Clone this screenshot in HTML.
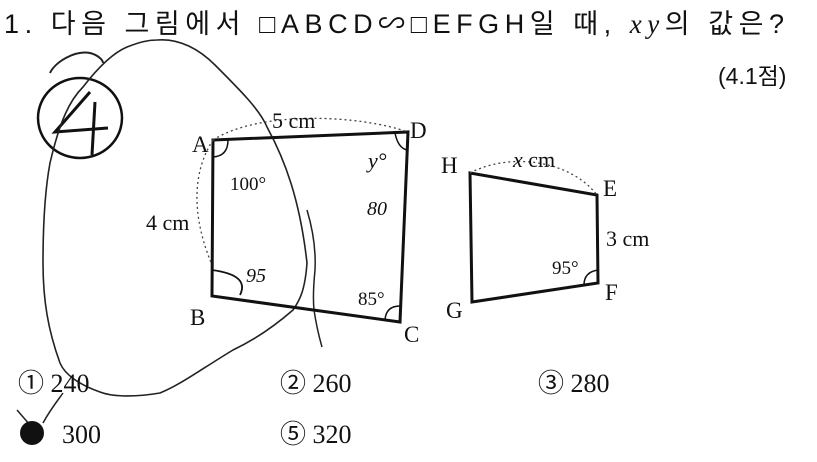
<!DOCTYPE html>
<html><head><meta charset="utf-8"><style>
html,body{margin:0;padding:0;background:#fff;}
body{width:817px;height:457px;overflow:hidden;}
svg text{font-family:"Liberation Serif","Noto Serif CJK SC",serif;fill:#111;}
.k{font-family:"Liberation Sans","Noto Sans CJK KR",sans-serif;}
</style></head><body>
<svg width="817" height="457" viewBox="0 0 817 457" xmlns="http://www.w3.org/2000/svg">
<text class="k" x="4" y="33" font-size="27" textLength="780" lengthAdjust="spacing">1. 다음 그림에서 □ABCD∽□EFGH일 때, <tspan font-style="italic" font-family="Liberation Serif">xy</tspan>의 값은?</text>
<text class="k" x="718" y="84" font-size="23">(4.1점)</text>

<!-- hand-drawn circle with 4 -->
<ellipse cx="80" cy="118" rx="42" ry="40" fill="none" stroke="#111" stroke-width="2.5"/>
<path d="M92 88 L55 100 L110 85 M92 88 L56 100" fill="none" stroke="none"/>
<path d="M88 96 L55 100 L110 84 M93 100 L92 155" fill="none" stroke="none"/>
<path d="M90 92 L55 132 L108 128 M95 102 L92 155" fill="none" stroke="#111" stroke-width="3"/>
<path d="M50 73 C55 62 75 50 90 53 C98 55 103 60 103 63" fill="none" stroke="#222" stroke-width="2"/>
<!-- large loop -->
<path d="M157 40 C180 38 200 50 215 65 C240 90 260 110 267 127 C285 160 300 200 307 263 C305 290 300 300 293 310 C270 330 250 342 233 350 C200 370 180 385 160 393 C130 398 110 396 100 392 C80 385 65 375 60 363 C48 330 43 300 43 263 C43 220 45 190 50 163 C60 120 70 100 83 87 C100 65 115 52 127 47 C140 42 148 40 157 40" fill="none" stroke="#222" stroke-width="1.6"/>
<path d="M307 210 C313 230 316 250 315 270 C313 290 313 300 314 310 C317 330 320 340 322 347" fill="none" stroke="#222" stroke-width="1.5"/>
<path d="M17 410 L30 425 M43 423 C50 410 58 400 63 393" fill="none" stroke="#222" stroke-width="1.5"/>

<!-- ABCD -->
<path d="M213 140 L408 132 L400 322 L212 296 Z" fill="none" stroke="#111" stroke-width="3"/>
<path d="M213 140 C200 160 185 200 212 265 M213 140 C260 110 360 115 408 132" fill="none" stroke="#444" stroke-width="1.3" stroke-dasharray="2,3"/>
<path d="M213 157 Q228 156 228 140" fill="none" stroke="#111" stroke-width="1.5"/>
<path d="M212 270 Q250 275 240 295" fill="none" stroke="#111" stroke-width="1.8"/>
<path d="M385 320 Q386 306 400 306" fill="none" stroke="#111" stroke-width="1.5"/>
<path d="M395 133 Q398 148 407 150" fill="none" stroke="#111" stroke-width="1.5"/>
<text x="192" y="152" font-size="23">A</text>
<text x="410" y="138" font-size="23">D</text>
<text x="190" y="325" font-size="23">B</text>
<text x="404" y="342" font-size="23">C</text>
<text x="272" y="128" font-size="22">5 cm</text>
<text x="146" y="230" font-size="22">4 cm</text>
<text x="230" y="190" font-size="19">100°</text>
<text x="358" y="305" font-size="19">85°</text>
<text x="368" y="168" font-size="22" font-style="italic">y°</text>
<text x="367" y="215" font-size="20" font-style="italic">80</text>
<text x="246" y="282" font-size="20" font-style="italic">95</text>

<!-- EFGH -->
<path d="M470 173 L597 195 L598 283 L472 302 Z" fill="none" stroke="#111" stroke-width="3"/>
<path d="M470 173 C510 152 570 160 597 195" fill="none" stroke="#444" stroke-width="1.3" stroke-dasharray="2,3"/>
<path d="M584 285 Q584 272 598 270" fill="none" stroke="#111" stroke-width="1.5"/>
<text x="441" y="173" font-size="23">H</text>
<text x="603" y="196" font-size="23">E</text>
<text x="605" y="300" font-size="23">F</text>
<text x="446" y="318" font-size="23">G</text>
<text x="513" y="167" font-size="22"><tspan font-style="italic">x</tspan> cm</text>
<text x="606" y="246" font-size="22">3 cm</text>
<text x="552" y="274" font-size="19">95°</text>

<!-- answers -->
<text x="18" y="392" font-size="26"><tspan class="k">①</tspan> 240</text>
<text x="280" y="392" font-size="26"><tspan class="k">②</tspan> 260</text>
<text x="538" y="392" font-size="26"><tspan class="k">③</tspan> 280</text>
<circle cx="32" cy="433" r="12" fill="#111"/>
<text x="62" y="443" font-size="26">300</text>
<text x="280" y="443" font-size="26"><tspan class="k">⑤</tspan> 320</text>
</svg>
</body></html>
